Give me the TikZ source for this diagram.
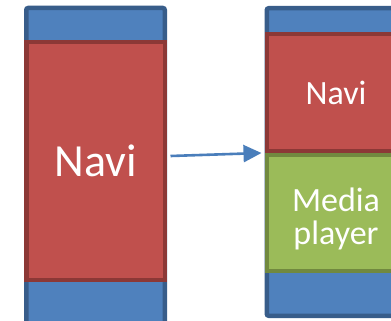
\documentclass[tikz,border=0pt]{standalone}
\usepackage{fontspec}
\newfontfamily\calib{Carlito}
\usetikzlibrary{arrows.meta}
\definecolor{bluefill}{HTML}{4F81BD}
\definecolor{blueline}{HTML}{385D8A}
\definecolor{redfill}{HTML}{C0504D}
\definecolor{redline}{HTML}{8C3836}
\definecolor{greenfill}{HTML}{9BBB59}
\definecolor{greenline}{HTML}{71893F}
\definecolor{arrowblue}{HTML}{4A7EBB}
\tikzset{
  panel/.style={rectangle, line width=4.5pt, inner sep=0pt, text=white, font=\calib, align=center},
  bluepanel/.style={panel, fill=bluefill, draw=blueline, rounded corners=2pt},
  redpanel/.style={panel, fill=redfill, draw=redline},
  greenpanel/.style={panel, fill=greenfill, draw=greenline},
  flow/.style={draw=arrowblue, line width=2.6pt, -{Triangle[length=18pt, width=17pt]}}
}
\begin{document}
\begin{tikzpicture}[x=1pt, y=-1pt]
\useasboundingbox (0,0) rectangle (391,321);
\fill[white] (0,0) rectangle (391,321);
\begin{scope}
\clip (0,0) rectangle (391,321);
% single-application screen
\node[bluepanel, minimum width=138.5pt, minimum height=327pt] (lphone) at (95.5,171.5) {};
\node[redpanel, minimum width=138.5pt, minimum height=237.5pt,
      font=\calib\fontsize{46}{46}\selectfont] (lnavi) at (95.5,161) {Navi};
% split screen
\node[bluepanel, minimum width=138.5pt, minimum height=307.5pt] (rphone) at (336,162) {};
\node[greenpanel, minimum width=138.5pt, minimum height=116.5pt] (rmedia) at (336,212.5) {};
\node[redpanel, minimum width=138.5pt, minimum height=116.5pt,
      font=\calib\fontsize{34}{34}\selectfont] (rnavi) at (336,92.5) {Navi};
\node[text=white, align=center, inner sep=0pt,
      font=\calib\fontsize{34}{33}\selectfont] (rmediatext) at (336,218.5) {Media\\player};
\end{scope}
% transition
\draw[flow] ([xshift=3.5pt, yshift=5pt]lnavi.east) -- ([xshift=-3pt, yshift=9pt]rphone.west);
\end{tikzpicture}
\end{document}
